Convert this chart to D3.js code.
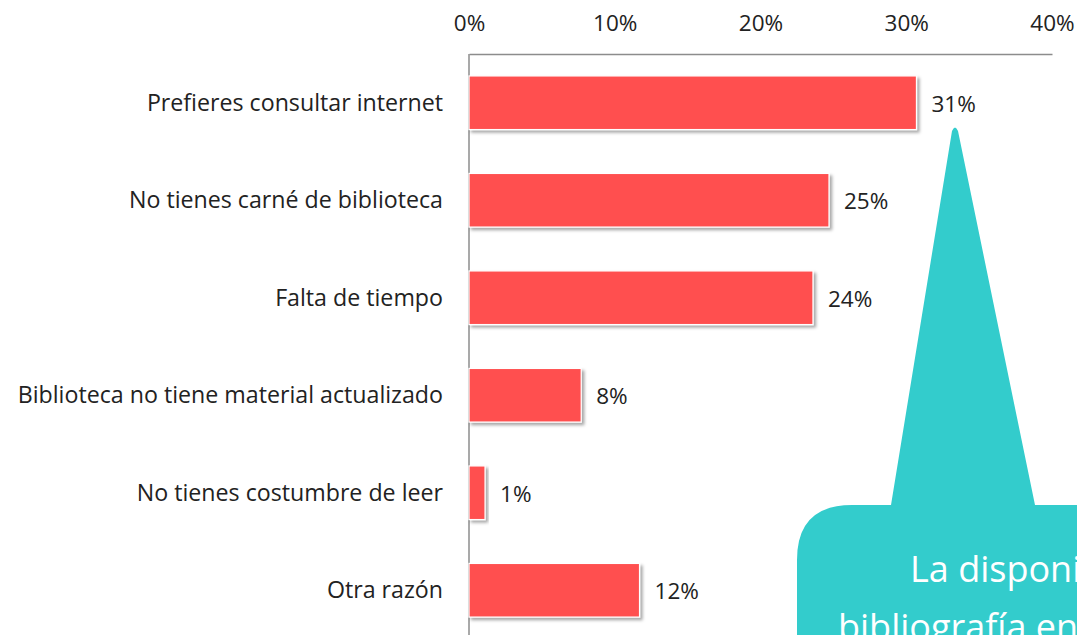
<!DOCTYPE html>
<html><head><meta charset="utf-8">
<script src="https://cdn.jsdelivr.net/npm/d3@7/dist/d3.min.js"></script>
<style>body{margin:0;background:#fff;overflow:hidden}svg{display:block}</style>
</head><body>
<svg id="c" width="1077" height="635"></svg>
<script>
const categories = ["Prefieres consultar internet","No tienes carné de biblioteca","Falta de tiempo","Biblioteca no tiene material actualizado","No tienes costumbre de leer","Otra razón"];
const values = [30.7, 24.7, 23.6, 7.7, 1.1, 11.7];
const valueLabels = ["31%","25%","24%","8%","1%","12%"];
const tickValues = [0, 10, 20, 30, 40];
const calloutLines = ["La disponibilidad de", "bibliografía en internet"];

const svg = d3.select("#c");
const font = "'Open Sans', sans-serif";
const x = d3.scaleLinear().domain([0, 40]).range([469, 1052]);
const y = d3.scaleBand().domain(categories).range([54, 639]).paddingInner(0.45).paddingOuter(0.225);

const defs = svg.append("defs");
const f = defs.append("filter").attr("id","sh").attr("x","-10%").attr("y","-20%").attr("width","130%").attr("height","150%");
f.append("feDropShadow").attr("dx",2.5).attr("dy",2.5).attr("stdDeviation",1.8).attr("flood-color","#000").attr("flood-opacity",0.35);

// axis
const ax = d3.axisTop(x).tickValues(tickValues).tickFormat(d => d + "%").tickSize(0).tickPadding(23);
const g = svg.append("g").attr("transform","translate(0,54)").call(ax);
g.select(".domain").attr("stroke","#8c8c8c").attr("stroke-width",1.5);
g.selectAll("text").attr("font-family",font).attr("font-size",22.5).attr("fill","#222");
svg.append("line").attr("x1",x(0)).attr("x2",x(0)).attr("y1",54).attr("y2",635).attr("stroke","#8c8c8c").attr("stroke-width",1.5);

// bars
svg.selectAll("rect.bar").data(values).join("rect").attr("class","bar")
  .attr("x", x(0)).attr("y", (d,i) => y(categories[i]))
  .attr("width", d => x(d) - x(0)).attr("height", y.bandwidth())
  .attr("fill","#FF5050").attr("stroke","#fff").attr("stroke-width",1.2).attr("filter","url(#sh)");

svg.selectAll("text.cat").data(categories).join("text").attr("class","cat")
  .attr("x", 443).attr("y", d => y(d) + y.bandwidth()/2).attr("dy","0.35em")
  .attr("text-anchor","end").attr("font-family",font).attr("font-size",23.2).attr("fill","#222").text(d => d);

svg.selectAll("text.val").data(values).join("text").attr("class","val")
  .attr("x", d => x(d) + 15).attr("y", (d,i) => y(categories[i]) + y.bandwidth()/2).attr("dy","0.4em")
  .attr("font-family",font).attr("font-size",22.5).attr("fill","#222").text((d,i) => valueLabels[i]);

// callout
const rx = 797, ry = 505, r = 55;
const p = d3.path();
p.moveTo(rx, ry + r);
p.quadraticCurveTo(rx, ry, rx + r, ry);
p.lineTo(891, ry);
p.lineTo(952, 131);
p.quadraticCurveTo(955, 124, 958, 131);
p.lineTo(1035, ry);
p.lineTo(1140, ry);
p.lineTo(1140, 700);
p.lineTo(rx, 700);
p.closePath();
svg.append("path").attr("d", p.toString()).attr("fill","#33CCCC");
svg.selectAll("text.co").data(calloutLines).join("text").attr("class","co")
  .attr("x", (d,i) => i === 0 ? 910 : 838).attr("y", (d,i) => 582 + i*58)
  .attr("font-family",font).attr("font-size",36).attr("fill","#fff").text(d => d);
</script>
</body></html>
